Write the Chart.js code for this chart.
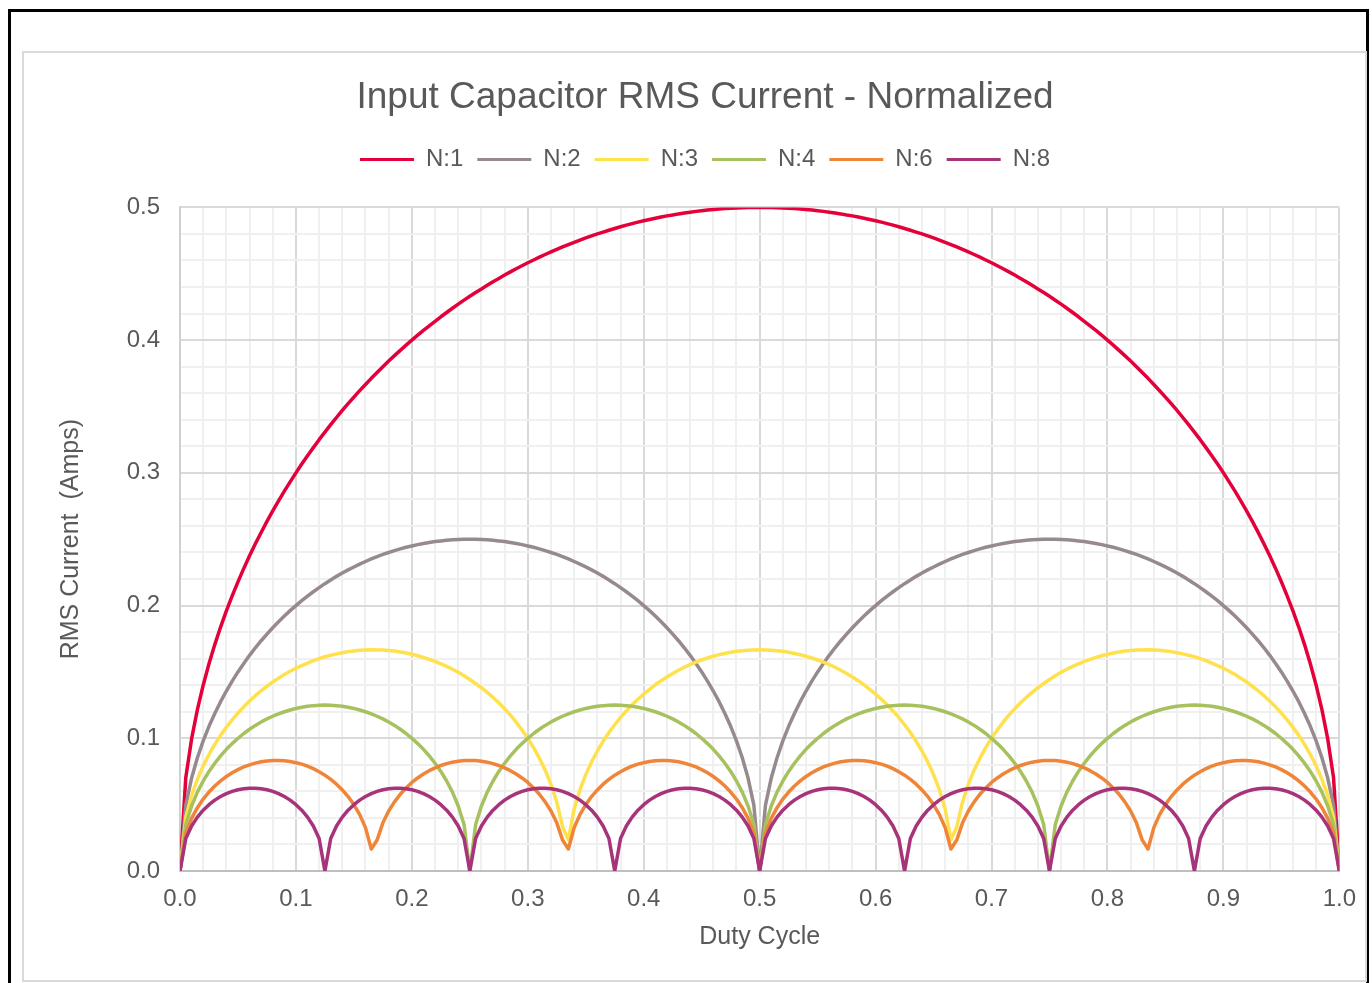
<!DOCTYPE html>
<html>
<head>
<meta charset="utf-8">
<title>Input Capacitor RMS Current - Normalized</title>
<script src="https://cdn.jsdelivr.net/npm/chart.js@4.4.1/dist/chart.umd.min.js"></script>
<style>
    html, body { margin: 0; padding: 0; background: #fff; overflow: hidden; }
    #frame { position: absolute; left: 8px; top: 9px; width: 1355px; height: 1000px; border: 3px solid #000; }
    #box { position: absolute; left: 22px; top: 51px; width: 1341px; height: 927px; border: 2px solid #d9d9d9; }
    #rms { position: absolute; left: 25px; top: 54px; }
</style>
</head>
<body>
<div id="frame"></div>
<div id="box"></div>
<canvas id="rms" width="1345" height="926"></canvas>
<script>
/*
    Input capacitor RMS current (normalized) against duty cycle,
    for 1, 2, 3, 4, 6 and 8 interleaved phases.
*/

let seriesNames = ['N:1', 'N:2', 'N:3', 'N:4', 'N:6', 'N:8'];

// duty cycle, step 0.005
let duty = [
    0, 0.005, 0.01, 0.015, 0.02, 0.025, 0.03, 0.035, 0.04, 0.045,
    0.05, 0.055, 0.06, 0.065, 0.07, 0.075, 0.08, 0.085, 0.09, 0.095,
    0.1, 0.105, 0.11, 0.115, 0.12, 0.125, 0.13, 0.135, 0.14, 0.145,
    0.15, 0.155, 0.16, 0.165, 0.17, 0.175, 0.18, 0.185, 0.19, 0.195,
    0.2, 0.205, 0.21, 0.215, 0.22, 0.225, 0.23, 0.235, 0.24, 0.245,
    0.25, 0.255, 0.26, 0.265, 0.27, 0.275, 0.28, 0.285, 0.29, 0.295,
    0.3, 0.305, 0.31, 0.315, 0.32, 0.325, 0.33, 0.335, 0.34, 0.345,
    0.35, 0.355, 0.36, 0.365, 0.37, 0.375, 0.38, 0.385, 0.39, 0.395,
    0.4, 0.405, 0.41, 0.415, 0.42, 0.425, 0.43, 0.435, 0.44, 0.445,
    0.45, 0.455, 0.46, 0.465, 0.47, 0.475, 0.48, 0.485, 0.49, 0.495,
    0.5, 0.505, 0.51, 0.515, 0.52, 0.525, 0.53, 0.535, 0.54, 0.545,
    0.55, 0.555, 0.56, 0.565, 0.57, 0.575, 0.58, 0.585, 0.59, 0.595,
    0.6, 0.605, 0.61, 0.615, 0.62, 0.625, 0.63, 0.635, 0.64, 0.645,
    0.65, 0.655, 0.66, 0.665, 0.67, 0.675, 0.68, 0.685, 0.69, 0.695,
    0.7, 0.705, 0.71, 0.715, 0.72, 0.725, 0.73, 0.735, 0.74, 0.745,
    0.75, 0.755, 0.76, 0.765, 0.77, 0.775, 0.78, 0.785, 0.79, 0.795,
    0.8, 0.805, 0.81, 0.815, 0.82, 0.825, 0.83, 0.835, 0.84, 0.845,
    0.85, 0.855, 0.86, 0.865, 0.87, 0.875, 0.88, 0.885, 0.89, 0.895,
    0.9, 0.905, 0.91, 0.915, 0.92, 0.925, 0.93, 0.935, 0.94, 0.945,
    0.95, 0.955, 0.96, 0.965, 0.97, 0.975, 0.98, 0.985, 0.99, 0.995,
    1
];

let n1 = [
    0.0000, 0.0705, 0.0995, 0.1216, 0.1400, 0.1561, 0.1706, 0.1838, 0.1960, 0.2073, 0.2179,
    0.2280, 0.2375, 0.2465, 0.2551, 0.2634, 0.2713, 0.2789, 0.2862, 0.2932, 0.3000,
    0.3066, 0.3129, 0.3190, 0.3250, 0.3307, 0.3363, 0.3417, 0.3470, 0.3521, 0.3571,
    0.3619, 0.3666, 0.3712, 0.3756, 0.3800, 0.3842, 0.3883, 0.3923, 0.3962, 0.4000,
    0.4037, 0.4073, 0.4108, 0.4142, 0.4176, 0.4208, 0.4240, 0.4271, 0.4301, 0.4330,
    0.4359, 0.4386, 0.4413, 0.4440, 0.4465, 0.4490, 0.4514, 0.4538, 0.4560, 0.4583,
    0.4604, 0.4625, 0.4645, 0.4665, 0.4684, 0.4702, 0.4720, 0.4737, 0.4754, 0.4770,
    0.4785, 0.4800, 0.4814, 0.4828, 0.4841, 0.4854, 0.4866, 0.4878, 0.4889, 0.4899,
    0.4909, 0.4918, 0.4927, 0.4936, 0.4943, 0.4951, 0.4958, 0.4964, 0.4970, 0.4975,
    0.4980, 0.4984, 0.4988, 0.4991, 0.4994, 0.4996, 0.4998, 0.4999, 0.5000, 0.5000,
    0.5000, 0.4999, 0.4998, 0.4996, 0.4994, 0.4991, 0.4988, 0.4984, 0.4980,
    0.4975, 0.4970, 0.4964, 0.4958, 0.4951, 0.4943, 0.4936, 0.4927, 0.4918, 0.4909,
    0.4899, 0.4889, 0.4878, 0.4866, 0.4854, 0.4841, 0.4828, 0.4814, 0.4800, 0.4785,
    0.4770, 0.4754, 0.4737, 0.4720, 0.4702, 0.4684, 0.4665, 0.4645, 0.4625, 0.4604,
    0.4583, 0.4560, 0.4538, 0.4514, 0.4490, 0.4465, 0.4440, 0.4413, 0.4386, 0.4359,
    0.4330, 0.4301, 0.4271, 0.4240, 0.4208, 0.4176, 0.4142, 0.4108, 0.4073, 0.4037,
    0.4000, 0.3962, 0.3923, 0.3883, 0.3842, 0.3800, 0.3756, 0.3712, 0.3666, 0.3619,
    0.3571, 0.3521, 0.3470, 0.3417, 0.3363, 0.3307, 0.3250, 0.3190, 0.3129, 0.3066,
    0.3000, 0.2932, 0.2862, 0.2789, 0.2713, 0.2634, 0.2551, 0.2465, 0.2375, 0.2280,
    0.2179, 0.2073, 0.1960, 0.1838, 0.1706, 0.1561, 0.1400, 0.1216, 0.0995, 0.0705, 0.0000
];

let n2 = [
    0.0000, 0.0497, 0.0700, 0.0853, 0.0980, 0.1090, 0.1187, 0.1276, 0.1356, 0.1431, 0.1500,
    0.1564, 0.1625, 0.1682, 0.1735, 0.1785, 0.1833, 0.1878, 0.1921, 0.1962, 0.2000,
    0.2037, 0.2071, 0.2104, 0.2135, 0.2165, 0.2193, 0.2220, 0.2245, 0.2269, 0.2291,
    0.2312, 0.2332, 0.2351, 0.2369, 0.2385, 0.2400, 0.2414, 0.2427, 0.2439, 0.2449,
    0.2459, 0.2468, 0.2475, 0.2482, 0.2487, 0.2492, 0.2496, 0.2498, 0.2500, 0.2500,
    0.2500, 0.2498, 0.2496, 0.2492, 0.2487, 0.2482, 0.2475, 0.2468, 0.2459,
    0.2449, 0.2439, 0.2427, 0.2414, 0.2400, 0.2385, 0.2369, 0.2351, 0.2332, 0.2312,
    0.2291, 0.2269, 0.2245, 0.2220, 0.2193, 0.2165, 0.2135, 0.2104, 0.2071, 0.2037,
    0.2000, 0.1962, 0.1921, 0.1878, 0.1833, 0.1785, 0.1735, 0.1682, 0.1625, 0.1564,
    0.1500, 0.1431, 0.1356, 0.1276, 0.1187, 0.1090, 0.0980, 0.0853, 0.0700, 0.0497, 0.0000,
    0.0497, 0.0700, 0.0853, 0.0980, 0.1090, 0.1187, 0.1276, 0.1356, 0.1431, 0.1500,
    0.1564, 0.1625, 0.1682, 0.1735, 0.1785, 0.1833, 0.1878, 0.1921, 0.1962, 0.2000,
    0.2037, 0.2071, 0.2104, 0.2135, 0.2165, 0.2193, 0.2220, 0.2245, 0.2269, 0.2291,
    0.2312, 0.2332, 0.2351, 0.2369, 0.2385, 0.2400, 0.2414, 0.2427, 0.2439, 0.2449,
    0.2459, 0.2468, 0.2475, 0.2482, 0.2487, 0.2492, 0.2496, 0.2498, 0.2500, 0.2500,
    0.2500, 0.2498, 0.2496, 0.2492, 0.2487, 0.2482, 0.2475, 0.2468, 0.2459,
    0.2449, 0.2439, 0.2427, 0.2414, 0.2400, 0.2385, 0.2369, 0.2351, 0.2332, 0.2312,
    0.2291, 0.2269, 0.2245, 0.2220, 0.2193, 0.2165, 0.2135, 0.2104, 0.2071, 0.2037,
    0.2000, 0.1962, 0.1921, 0.1878, 0.1833, 0.1785, 0.1735, 0.1682, 0.1625, 0.1564,
    0.1500, 0.1431, 0.1356, 0.1276, 0.1187, 0.1090, 0.0980, 0.0853, 0.0700, 0.0497, 0.0000
];

let n3 = [
    0.0000, 0.0405, 0.0569, 0.0691, 0.0792, 0.0878, 0.0954, 0.1022, 0.1083, 0.1139,
    0.1190, 0.1237, 0.1281, 0.1321, 0.1358, 0.1392, 0.1424, 0.1453, 0.1480, 0.1505,
    0.1528, 0.1548, 0.1567, 0.1585, 0.1600, 0.1614, 0.1626, 0.1636, 0.1645, 0.1653,
    0.1658, 0.1663, 0.1665, 0.1667, 0.1666, 0.1665, 0.1661, 0.1657, 0.1650, 0.1642,
    0.1633, 0.1622, 0.1609, 0.1595, 0.1579, 0.1561, 0.1542, 0.1520, 0.1497, 0.1471,
    0.1443, 0.1413, 0.1381, 0.1346, 0.1308, 0.1267, 0.1222, 0.1174, 0.1121, 0.1063,
    0.1000, 0.0930, 0.0850, 0.0760, 0.0653, 0.0520, 0.0332,
    0.0235, 0.0467, 0.0613, 0.0726, 0.0822, 0.0904, 0.0977, 0.1043, 0.1102, 0.1157,
    0.1206, 0.1252, 0.1294, 0.1333, 0.1369, 0.1403, 0.1434, 0.1462, 0.1488, 0.1513,
    0.1535, 0.1555, 0.1573, 0.1590, 0.1605, 0.1618, 0.1630, 0.1639, 0.1648, 0.1655,
    0.1660, 0.1664, 0.1666, 0.1667, 0.1666, 0.1664, 0.1660, 0.1655, 0.1648, 0.1639,
    0.1630, 0.1618, 0.1605, 0.1590, 0.1573, 0.1555, 0.1535, 0.1513, 0.1488, 0.1462,
    0.1434, 0.1403, 0.1369, 0.1333, 0.1294, 0.1252, 0.1206, 0.1157, 0.1102, 0.1043,
    0.0977, 0.0904, 0.0822, 0.0726, 0.0613, 0.0467, 0.0235,
    0.0332, 0.0520, 0.0653, 0.0760, 0.0850, 0.0930, 0.1000,
    0.1063, 0.1121, 0.1174, 0.1222, 0.1267, 0.1308, 0.1346, 0.1381, 0.1413, 0.1443,
    0.1471, 0.1497, 0.1520, 0.1542, 0.1561, 0.1579, 0.1595, 0.1609, 0.1622, 0.1633,
    0.1642, 0.1650, 0.1657, 0.1661, 0.1665, 0.1666, 0.1667, 0.1665, 0.1663, 0.1658,
    0.1653, 0.1645, 0.1636, 0.1626, 0.1614, 0.1600, 0.1585, 0.1567, 0.1548, 0.1528,
    0.1505, 0.1480, 0.1453, 0.1424, 0.1392, 0.1358, 0.1321, 0.1281, 0.1237, 0.1190,
    0.1139, 0.1083, 0.1022, 0.0954, 0.0878, 0.0792, 0.0691, 0.0569, 0.0405, 0.0000
];

let n4 = [
    0.0000, 0.0350, 0.0490, 0.0594, 0.0678, 0.0750, 0.0812, 0.0867, 0.0917, 0.0960, 0.1000, 0.1036, 0.1068,
    0.1097, 0.1122, 0.1146, 0.1166, 0.1184, 0.1200, 0.1213, 0.1225, 0.1234, 0.1241, 0.1246, 0.1249, 0.1250,
    0.1249, 0.1246, 0.1241, 0.1234, 0.1225, 0.1213, 0.1200, 0.1184, 0.1166, 0.1146, 0.1122, 0.1097, 0.1068,
    0.1036, 0.1000, 0.0960, 0.0917, 0.0867, 0.0812, 0.0750, 0.0678, 0.0594, 0.0490, 0.0350, 0.0000,
    0.0350, 0.0490, 0.0594, 0.0678, 0.0750, 0.0812, 0.0867, 0.0917, 0.0960, 0.1000, 0.1036, 0.1068,
    0.1097, 0.1122, 0.1146, 0.1166, 0.1184, 0.1200, 0.1213, 0.1225, 0.1234, 0.1241, 0.1246, 0.1249, 0.1250,
    0.1249, 0.1246, 0.1241, 0.1234, 0.1225, 0.1213, 0.1200, 0.1184, 0.1166, 0.1146, 0.1122, 0.1097, 0.1068,
    0.1036, 0.1000, 0.0960, 0.0917, 0.0867, 0.0812, 0.0750, 0.0678, 0.0594, 0.0490, 0.0350, 0.0000,
    0.0350, 0.0490, 0.0594, 0.0678, 0.0750, 0.0812, 0.0867, 0.0917, 0.0960, 0.1000, 0.1036, 0.1068,
    0.1097, 0.1122, 0.1146, 0.1166, 0.1184, 0.1200, 0.1213, 0.1225, 0.1234, 0.1241, 0.1246, 0.1249, 0.1250,
    0.1249, 0.1246, 0.1241, 0.1234, 0.1225, 0.1213, 0.1200, 0.1184, 0.1166, 0.1146, 0.1122, 0.1097, 0.1068,
    0.1036, 0.1000, 0.0960, 0.0917, 0.0867, 0.0812, 0.0750, 0.0678, 0.0594, 0.0490, 0.0350, 0.0000,
    0.0350, 0.0490, 0.0594, 0.0678, 0.0750, 0.0812, 0.0867, 0.0917, 0.0960, 0.1000, 0.1036, 0.1068,
    0.1097, 0.1122, 0.1146, 0.1166, 0.1184, 0.1200, 0.1213, 0.1225, 0.1234, 0.1241, 0.1246, 0.1249, 0.1250,
    0.1249, 0.1246, 0.1241, 0.1234, 0.1225, 0.1213, 0.1200, 0.1184, 0.1166, 0.1146, 0.1122, 0.1097, 0.1068,
    0.1036, 0.1000, 0.0960, 0.0917, 0.0867, 0.0812, 0.0750, 0.0678, 0.0594, 0.0490, 0.0350, 0.0000
];

let n6 = [
    0.0000, 0.0284, 0.0396, 0.0477, 0.0542, 0.0595, 0.0640, 0.0679, 0.0712, 0.0740, 0.0764, 0.0784,
    0.0800, 0.0813, 0.0823, 0.0829, 0.0833, 0.0833, 0.0831, 0.0825, 0.0816, 0.0805, 0.0790, 0.0771,
    0.0748, 0.0722, 0.0690, 0.0654, 0.0611, 0.0561, 0.0500, 0.0425, 0.0327, 0.0166,
    0.0233, 0.0363, 0.0452, 0.0521, 0.0578, 0.0626, 0.0667, 0.0701, 0.0731, 0.0756, 0.0777,
    0.0795, 0.0809, 0.0820, 0.0827, 0.0832, 0.0833, 0.0832, 0.0827, 0.0820, 0.0809, 0.0795,
    0.0777, 0.0756, 0.0731, 0.0701, 0.0667, 0.0626, 0.0578, 0.0521, 0.0452, 0.0363, 0.0233,
    0.0166, 0.0327, 0.0425, 0.0500, 0.0561, 0.0611, 0.0654, 0.0690, 0.0722, 0.0748, 0.0771, 0.0790,
    0.0805, 0.0816, 0.0825, 0.0831, 0.0833, 0.0833, 0.0829, 0.0823, 0.0813, 0.0800, 0.0784, 0.0764,
    0.0740, 0.0712, 0.0679, 0.0640, 0.0595, 0.0542, 0.0477, 0.0396, 0.0284, 0.0000,
    0.0284, 0.0396, 0.0477, 0.0542, 0.0595, 0.0640, 0.0679, 0.0712, 0.0740, 0.0764, 0.0784,
    0.0800, 0.0813, 0.0823, 0.0829, 0.0833, 0.0833, 0.0831, 0.0825, 0.0816, 0.0805, 0.0790, 0.0771,
    0.0748, 0.0722, 0.0690, 0.0654, 0.0611, 0.0561, 0.0500, 0.0425, 0.0327, 0.0166,
    0.0233, 0.0363, 0.0452, 0.0521, 0.0578, 0.0626, 0.0667, 0.0701, 0.0731, 0.0756, 0.0777,
    0.0795, 0.0809, 0.0820, 0.0827, 0.0832, 0.0833, 0.0832, 0.0827, 0.0820, 0.0809, 0.0795,
    0.0777, 0.0756, 0.0731, 0.0701, 0.0667, 0.0626, 0.0578, 0.0521, 0.0452, 0.0363, 0.0233,
    0.0166, 0.0327, 0.0425, 0.0500, 0.0561, 0.0611, 0.0654, 0.0690, 0.0722, 0.0748, 0.0771, 0.0790,
    0.0805, 0.0816, 0.0825, 0.0831, 0.0833, 0.0833, 0.0829, 0.0823, 0.0813, 0.0800, 0.0784, 0.0764,
    0.0740, 0.0712, 0.0679, 0.0640, 0.0595, 0.0542, 0.0477, 0.0396, 0.0284, 0.0000
];

let n8 = [
    0.0000, 0.0245, 0.0339, 0.0406, 0.0458, 0.0500, 0.0534, 0.0561, 0.0583, 0.0600, 0.0612, 0.0620, 0.0624,
    0.0624, 0.0620, 0.0612, 0.0600, 0.0583, 0.0561, 0.0534, 0.0500, 0.0458, 0.0406, 0.0339, 0.0245, 0.0000,
    0.0245, 0.0339, 0.0406, 0.0458, 0.0500, 0.0534, 0.0561, 0.0583, 0.0600, 0.0612, 0.0620, 0.0624,
    0.0624, 0.0620, 0.0612, 0.0600, 0.0583, 0.0561, 0.0534, 0.0500, 0.0458, 0.0406, 0.0339, 0.0245, 0.0000,
    0.0245, 0.0339, 0.0406, 0.0458, 0.0500, 0.0534, 0.0561, 0.0583, 0.0600, 0.0612, 0.0620, 0.0624,
    0.0624, 0.0620, 0.0612, 0.0600, 0.0583, 0.0561, 0.0534, 0.0500, 0.0458, 0.0406, 0.0339, 0.0245, 0.0000,
    0.0245, 0.0339, 0.0406, 0.0458, 0.0500, 0.0534, 0.0561, 0.0583, 0.0600, 0.0612, 0.0620, 0.0624,
    0.0624, 0.0620, 0.0612, 0.0600, 0.0583, 0.0561, 0.0534, 0.0500, 0.0458, 0.0406, 0.0339, 0.0245, 0.0000,
    0.0245, 0.0339, 0.0406, 0.0458, 0.0500, 0.0534, 0.0561, 0.0583, 0.0600, 0.0612, 0.0620, 0.0624,
    0.0624, 0.0620, 0.0612, 0.0600, 0.0583, 0.0561, 0.0534, 0.0500, 0.0458, 0.0406, 0.0339, 0.0245, 0.0000,
    0.0245, 0.0339, 0.0406, 0.0458, 0.0500, 0.0534, 0.0561, 0.0583, 0.0600, 0.0612, 0.0620, 0.0624,
    0.0624, 0.0620, 0.0612, 0.0600, 0.0583, 0.0561, 0.0534, 0.0500, 0.0458, 0.0406, 0.0339, 0.0245, 0.0000,
    0.0245, 0.0339, 0.0406, 0.0458, 0.0500, 0.0534, 0.0561, 0.0583, 0.0600, 0.0612, 0.0620, 0.0624,
    0.0624, 0.0620, 0.0612, 0.0600, 0.0583, 0.0561, 0.0534, 0.0500, 0.0458, 0.0406, 0.0339, 0.0245, 0.0000,
    0.0245, 0.0339, 0.0406, 0.0458, 0.0500, 0.0534, 0.0561, 0.0583, 0.0600, 0.0612, 0.0620, 0.0624,
    0.0624, 0.0620, 0.0612, 0.0600, 0.0583, 0.0561, 0.0534, 0.0500, 0.0458, 0.0406, 0.0339, 0.0245, 0.0000
];

let seriesValues = [n1, n2, n3, n4, n6, n8];

let lineColors = [
    '#e4003a', // N:1 red
    '#978a8e', // N:2 grey
    '#ffe14e', // N:3 yellow
    '#a6c15e', // N:4 green
    '#ef8539', // N:6 orange
    '#a7337b'  // N:8 purple
];

let textColor = '#595959';
let fontFamily = '"Liberation Sans", Arial, sans-serif';

function buildDataset(values, index) {
    let points = [];
    for (let i = 0; i < values.length; i++) {
        points.push({ x: duty[i], y: values[i] });
    }
    return {
        label: seriesNames[index],
        data: points,
        borderColor: lineColors[index],
        backgroundColor: lineColors[index],
        borderWidth: 3.5,
        borderCapStyle: 'round',
        borderJoinStyle: 'round',
        pointRadius: 0,
        tension: 0,
        // later series are drawn on top, as in the spreadsheet
        order: seriesValues.length - index
    };
}

// leave some room between the legend and the plot
let legendGap = {
    id: 'legendGap',
    beforeInit(chart) {
        let fit = chart.legend.fit;
        chart.legend.fit = function () {
            fit.call(this);
            this.height += 26;
        };
    }
};

let majorGrid = (c) => (c.index % 5 === 0 ? '#d9d9d9' : '#f0f0f0');
let tenthLabel = (value, index) => (index % 5 === 0 ? Number(value).toFixed(1) : '');

let dataSets = [];
for (let i = 0; i < seriesValues.length; i++) {
    dataSets.push(buildDataset(seriesValues[i], i));
}

let context = document.getElementById('rms').getContext('2d');
window.rmsChart = new Chart(context, {
    type: 'line',
    data: { datasets: dataSets },
    plugins: [legendGap],
    options: {
        responsive: false,
        animation: false,
        layout: { padding: { left: 41, right: 26, top: 0, bottom: 0 } },
        plugins: {
            title: {
                display: true,
                text: 'Input Capacitor RMS Current - Normalized',
                color: textColor,
                font: { family: fontFamily, size: 37, weight: 'normal' },
                padding: { top: 22, bottom: 13 }
            },
            legend: {
                position: 'top',
                labels: {
                    color: textColor,
                    font: { family: fontFamily, size: 24 },
                    boxWidth: 54,
                    boxHeight: 3,
                    padding: 14,
                    sort: (a, b) => a.datasetIndex - b.datasetIndex,
                    generateLabels(chart) {
                        let items = Chart.defaults.plugins.legend.labels.generateLabels(chart);
                        for (const item of items) {
                            item.lineWidth = 0;
                            item.fillStyle = item.strokeStyle;
                        }
                        return items;
                    }
                }
            },
            tooltip: { enabled: false }
        },
        scales: {
            x: {
                type: 'linear',
                min: 0,
                max: 1,
                afterFit(scale) { scale.height = 109; },
                ticks: {
                    stepSize: 0.02,
                    autoSkip: false,
                    maxRotation: 0,
                    minRotation: 0,
                    padding: 14,
                    color: textColor,
                    font: { family: fontFamily, size: 24 },
                    callback: tenthLabel
                },
                grid: { color: majorGrid, lineWidth: 2, drawTicks: false },
                border: { color: '#bfbfbf', width: 2 },
                title: {
                    display: true,
                    text: 'Duty Cycle',
                    color: textColor,
                    font: { family: fontFamily, size: 25 },
                    padding: { top: 0, bottom: 28 }
                }
            },
            y: {
                type: 'linear',
                min: 0,
                max: 0.5,
                afterFit(scale) { scale.width = 114; },
                ticks: {
                    stepSize: 0.02,
                    autoSkip: false,
                    padding: 20,
                    color: textColor,
                    font: { family: fontFamily, size: 24 },
                    callback: tenthLabel
                },
                grid: { color: majorGrid, lineWidth: 2, drawTicks: false },
                border: { color: '#d0d0d0', width: 2 },
                title: {
                    display: true,
                    text: 'RMS Current  (Amps)',
                    color: textColor,
                    font: { family: fontFamily, size: 25 },
                    padding: { top: -10, bottom: 0 }
                }
            }
        }
    }
});
</script>
</body>
</html>
